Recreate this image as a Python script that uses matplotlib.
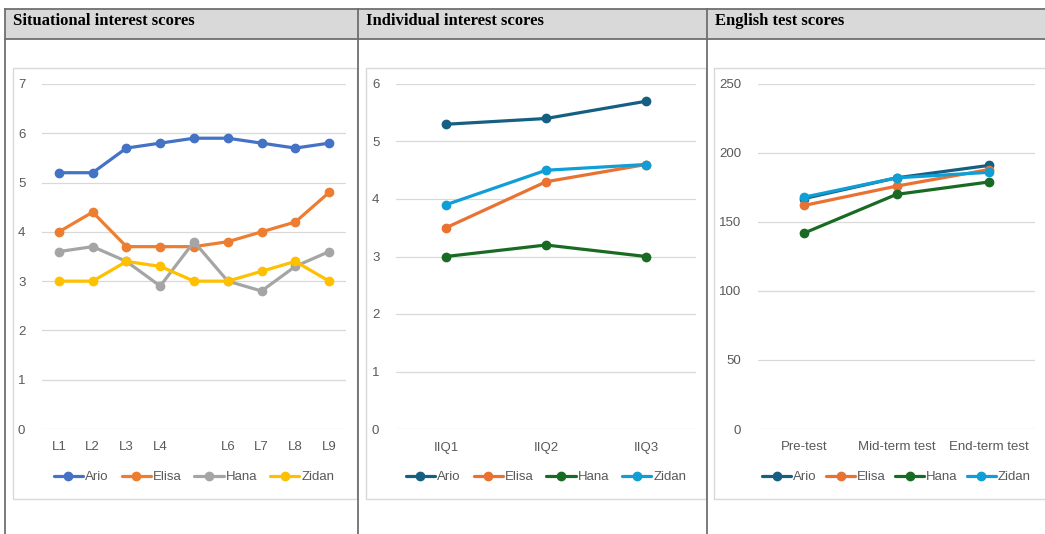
import matplotlib.pyplot as plt
from matplotlib.patches import Rectangle
from matplotlib.lines import Line2D
plt.switch_backend('agg')

W, H = 1045, 534

names = ['Ario', 'Elisa', 'Hana', 'Zidan']

# situational interest
sit_labels = ['L1', 'L2', 'L3', 'L4', '', 'L6', 'L7', 'L8', 'L9']
sit_ario = [5.2, 5.2, 5.7, 5.8, 5.9, 5.9, 5.8, 5.7, 5.8]
sit_elisa = [4.0, 4.4, 3.7, 3.7, 3.7, 3.8, 4.0, 4.2, 4.8]
sit_hana = [3.6, 3.7, 3.4, 2.9, 3.8, 3.0, 2.8, 3.3, 3.6]
sit_zidan = [3.0, 3.0, 3.4, 3.3, 3.0, 3.0, 3.2, 3.4, 3.0]

# individual interest
ind_labels = ['IIQ1', 'IIQ2', 'IIQ3']
ind_ario = [5.3, 5.4, 5.7]
ind_elisa = [3.5, 4.3, 4.6]
ind_hana = [3.0, 3.2, 3.0]
ind_zidan = [3.9, 4.5, 4.6]

# english test
eng_labels = ['Pre-test', 'Mid-term test', 'End-term test']
eng_ario = [167, 182, 191]
eng_elisa = [162, 176, 188]
eng_hana = [142, 170, 179]
eng_zidan = [168, 182, 186]

old_colors = ['#4472C4', '#ED7D31', '#A5A5A5', '#FFC000']
new_colors = ['#156082', '#E97132', '#196B24', '#0F9ED5']

plt.rcParams['font.family'] = ['Liberation Sans', 'DejaVu Sans']

fig = plt.figure(figsize=(W / 100, H / 100), dpi=100)


def fx(x):
    return x / W


def fy(y):
    return 1 - y / H


# table frame
fig.patches.append(Rectangle((fx(5), fy(39)), fx(1045 - 5), (39 - 9) / H,
                             transform=fig.transFigure, facecolor='#d9d9d9',
                             edgecolor='none', zorder=0))
line_kw = dict(transform=fig.transFigure, color='#6f6f6f', lw=1.3, zorder=5)
fig.lines.append(Line2D([fx(5), 1], [fy(9), fy(9)], **line_kw))
fig.lines.append(Line2D([fx(5), 1], [fy(39), fy(39)], **line_kw))
for xc in [5, 358, 707]:
    fig.lines.append(Line2D([fx(xc), fx(xc)], [fy(9), 0], **line_kw))

titles = ['Situational interest scores', 'Individual interest scores', 'English test scores']
for xt, t in zip([13, 366, 715], titles):
    fig.text(fx(xt), fy(21), t, family='Liberation Serif', weight='bold',
             fontsize=12, va='center', ha='left', color='black')

# chart boxes
for x0, x1 in [(13, 357), (366, 706), (714, 1046)]:
    fig.patches.append(Rectangle((fx(x0), fy(499)), fx(x1 - x0), (499 - 68) / H,
                                 transform=fig.transFigure, facecolor='white',
                                 edgecolor='#d9d9d9', lw=1, zorder=1))


def panel(px0, px1, labels, series, colors, ymax, ystep, leg_spacing):
    ax = fig.add_axes([fx(px0), fy(429), fx(px1 - px0), (429 - 84) / H])
    ax.set_zorder(3)
    ax.patch.set_alpha(0)
    x = range(len(labels))
    for vals, c, n in zip(series, colors, names):
        ax.plot(x, vals, '-o', color=c, lw=2.3, ms=6, label=n, solid_capstyle='round')
    ax.set_xlim(-0.5, len(labels) - 0.5)
    ax.set_ylim(0, ymax)
    ax.set_yticks(range(0, ymax + 1, ystep))
    ax.set_xticks(list(x))
    ax.set_xticklabels(labels)
    ax.grid(axis='y', color='#d9d9d9', lw=0.9)
    ax.set_axisbelow(True)
    for s in ax.spines.values():
        s.set_visible(False)
    ax.tick_params(length=0, labelsize=9.5, labelcolor='#595959')
    ax.tick_params(axis='y', pad=12)
    ax.tick_params(axis='x', pad=9)
    ax.legend(loc='center', bbox_to_anchor=(0.5, -48 / 345), ncol=4, frameon=False,
              fontsize=9.5, labelcolor='#595959', handlelength=2.2,
              handletextpad=0.15, columnspacing=leg_spacing)
    return ax


panel(42, 346, sit_labels, [sit_ario, sit_elisa, sit_hana, sit_zidan], old_colors, 7, 1, 1.0)
panel(396, 696, ind_labels, [ind_ario, ind_elisa, ind_hana, ind_zidan], new_colors, 6, 1, 1.0)
panel(758, 1035, eng_labels, [eng_ario, eng_elisa, eng_hana, eng_zidan], new_colors, 250, 50, 0.7)

fig.savefig('out.png', dpi=100)
